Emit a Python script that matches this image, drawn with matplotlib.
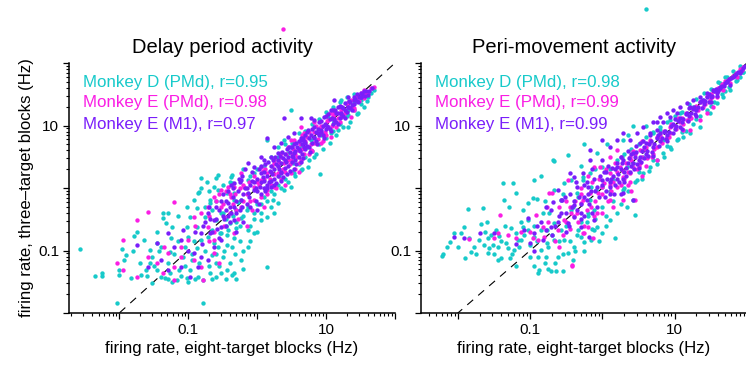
import numpy as np
import matplotlib
matplotlib.use("Agg")
import matplotlib.pyplot as plt
from matplotlib.ticker import LogLocator, NullFormatter, FixedLocator, FixedFormatter

plt.rcParams['font.family'] = ['Liberation Sans', 'DejaVu Sans']

# log10 firing rates: (eight-target blocks, three-target blocks)
delay_D = [
    (-2.57, -0.98), (-2.36, -1.41), (-2.25, -1.36), (-2.25, -1.41), (-2.03, -1.84), (-0.78, -1.84), (0.14, -1.26),
    (-2.01, -1.39), (-2.0, -1.31), (-1.93, -1.15), (-1.96, -0.98), (-1.91, -1.07), (-1.78, -0.77), (-1.74, -0.70),
    (-1.83, -1.44), (-1.68, -1.39), (-1.61, -1.31), (-1.56, -1.2), (-1.52, -1.1), (-1.64, -0.83), (-1.56, -0.99),
    (-1.46, -0.88), (-1.37, -0.4), (-1.29, -0.4), (-1.37, -0.48), (-1.32, -0.56), (-1.23, -0.62), (-1.39, -0.94),
    (-1.27, -1.02), (-1.45, -1.31), (-1.34, -1.44), (-1.27, -1.36), (-1.17, -1.47), (-1.24, -1.5), (-1.13, -1.31),
    (-1.08, -1.1), (-1.05, -0.94), (-1.01, -0.78), (-1.02, -0.62), (-0.98, -0.46), (-1.02, -0.3), (-0.88, -0.32),
    (-0.81, 0.16), (-0.73, 0.1), (-0.84, -0.06), (-0.91, -0.19), (-0.69, -0.19), (-0.76, -0.46), (-0.88, -0.62),
    (-0.81, -0.83), (-0.88, -0.96), (-0.94, -1.15), (-0.98, -1.31), (-1.02, -1.44), (-0.86, -1.42), (-0.79, -1.47),
    (-0.69, -1.36), (-0.59, -1.42), (-0.52, -1.36), (-0.44, -1.31), (-0.37, -1.39), (-0.59, -1.2), (-0.50, -1.1),
    (-0.65, -1.07), (-0.57, -0.94), (-0.44, -0.91), (-0.36, -0.94), (-0.33, -0.8), (-0.44, -0.75), (-0.54, -0.72),
    (-0.65, -0.67), (-0.30, -0.64), (-0.40, -0.56), (-0.59, -0.51), (-0.50, -0.4), (-0.30, -0.35), (-0.65, -0.35),
    (-0.57, -0.03), (-0.44, -0.08), (-0.36, 0.08), (-0.59, 0.16), (-0.36, 0.21), (-0.28, -0.22), (-1.52, -1.52),
    (-0.63, 0.02), (-0.57, 0.21), (-0.86, -0.08), (-0.82, 0.0), (-0.68, -0.24), (-0.38, 0.18), (-0.34, -0.08),
    (-0.24, -0.19), (-0.14, -0.3), (-0.05, -0.4), (0.05, -0.51), (0.15, -0.46), (0.24, -0.4), (0.23, -0.19),
    (0.3, -0.24), (0.39, -0.03), (0.49, 0.02), (0.53, 0.24), (0.63, 0.29), (0.74, 0.34), (0.91, 0.22), (0.82, 0.5),
    (0.3, 0.66), (0.15, 0.77), (0.49, 1.25), (0.39, 0.77), (-0.05, 0.24), (-0.14, 0.13), (-0.34, -0.19), (-0.53, -0.4),
    (-0.24, -0.48), (-0.53, -0.72), (-0.43, -0.67), (-0.14, -0.67), (-0.05, -0.72), (-0.14, -0.94), (-0.24, -1.15),
    (-0.34, -1.36), (0.3, 0.45), (0.45, 0.56), (0.63, 0.66), (0.78, 0.77), (0.93, 0.88), (1.12, 1.05), (1.32, 1.17),
    (1.41, 1.36), (1.61, 1.46), (1.55, 1.52), (1.22, 1.41), (1.03, 1.14), (1.07, 0.88), (1.17, 0.93), (1.32, 0.98),
    (1.46, 1.2), (1.5, 1.41), (1.65, 1.52), (1.70, 1.57),
    (0.0, -0.25), (0.1, -0.15), (0.2, -0.05), (0.3, 0.05), (0.4, 0.15), (0.5, 0.25), (0.6, 0.38), (0.7, 0.5),
    (0.8, 0.6), (0.9, 0.7), (1.0, 0.8), (1.1, 0.92), (1.2, 1.02), (1.3, 1.15), (1.4, 1.25), (1.5, 1.35),
    (-0.1, 0.2), (0.1, 0.35), (0.3, 0.5), (0.5, 0.72), (0.7, 0.92), (0.9, 1.1), (1.1, 1.3), (1.3, 1.45),
    (-0.2, -0.45), (-0.1, -0.6), (0.0, -0.7), (-0.3, -0.55), (0.05, -0.4), (0.2, -0.3),
    (-0.45, -0.5), (-0.35, -0.45), (-0.25, -0.6), (-0.15, -0.35), (-0.05, -0.5), (0.05, -0.25), (0.15, -0.2),
    (0.25, -0.1), (0.35, 0.0), (0.45, 0.1), (0.55, 0.2), (0.65, 0.3), (0.75, 0.45), (0.85, 0.55), (0.95, 0.62),
    (1.05, 0.72), (1.15, 0.85), (1.25, 0.98), (1.35, 1.05), (1.45, 1.18), (1.55, 1.3), (1.6, 1.4), (0.0, 0.3),
    (0.2, 0.5), (0.4, 0.7), (0.6, 0.88), (0.8, 1.02), (1.0, 1.22), (1.2, 1.38), (1.4, 1.5), (-0.2, 0.3), (-0.4, 0.1),
    (0.12, 0.0), (0.32, 0.2), (0.52, 0.4), (0.72, 0.65), (0.92, 0.85), (1.12, 1.05), (1.32, 1.25),
    (-1.6, -1.4), (-1.5, -1.25), (-1.42, -1.0), (-1.4, -1.42), (-1.3, -1.2), (-1.2, -1.05), (-1.15, -0.85),
    (-1.1, -1.4), (-1.05, -1.25), (-0.95, -1.05), (-0.92, -0.85), (-0.85, -1.2), (-0.75, -1.0), (-0.72, -0.78),
    (-0.7, -1.25), (-0.62, -0.88), (-0.6, -1.05), (-0.55, -1.25), (-0.48, -1.0), (-0.4, -1.2), (-0.32, -1.05),
    (-0.25, -0.85), (-0.2, -1.0), (-0.1, -0.85), (-0.75, -0.3), (-0.7, -0.05), (-0.6, -0.2), (-0.5, 0.05),
    (-0.45, -0.6), (-1.15, -0.45), (-1.25, -0.8), (-1.45, -0.7), (-1.7, -1.2), (-1.8, -1.0), (-1.3, -1.45),
    (-1.0, -1.5), (-0.9, -1.45), (-0.65, -1.45), (-0.45, -1.45), (-0.3, -1.45), (-0.2, -1.3),
]
delay_E_pmd = [
    (-1.74, -0.51), (-1.59, -0.38), (-1.21, -0.22), (-1.94, -0.83), (-2.03, -1.2), (-1.94, -1.31), (-1.74, -1.42),
    (-1.59, -1.1), (-1.45, -1.2), (-1.30, -1.04), (-1.21, -1.26), (-1.11, -0.94), (-1.01, -0.83), (-0.92, -1.15),
    (-0.78, -1.47), (-0.63, -1.04), (-0.92, -0.46), (-0.72, -0.62), (-0.53, -0.3), (-0.38, -0.14), (-0.48, -0.46),
    (-0.34, -0.72), (-0.63, -0.83), (-0.82, -1.26), (-1.21, -1.47), (-1.36, -1.36), (-0.24, -0.3), (-0.19, 0.02),
    (-0.05, 0.02), (0.05, 0.13), (0.15, -0.03), (-0.05, -0.19), (0.15, 0.24), (0.24, 0.4), (0.39, 0.4), (0.34, 0.56),
    (0.49, 0.45), (0.59, 0.61), (0.53, 0.77), (0.68, 0.88), (0.82, 0.72), (0.93, 0.98), (1.03, 1.09), (1.12, 1.2),
    (1.22, 1.3), (1.36, 1.41), (1.46, 1.46), (1.55, 1.57), (1.61, 1.54), (1.65, 1.6), (1.22, 1.14), (1.36, 1.14),
    (0.82, 1.05), (0.63, 0.98), (0.49, 0.77), (0.3, 0.24), (0.05, 0.34), (-0.24, 0.24), (-0.34, 0.02), (-0.53, -0.03),
    (-0.63, -0.14), (-0.72, -0.3), (-0.82, -0.4), (-0.43, 0.02), (0.24, 0.02), (0.49, 0.24), (0.63, 0.45), (0.78, 0.61),
    (0.93, 0.72), (1.07, 0.82), (1.41, 1.25), (1.55, 1.44), (0.38, 2.55), (1.7, 1.62),
    (-0.1, -0.2), (0.0, 0.1), (0.1, 0.15), (0.2, 0.05), (0.3, 0.35), (0.4, 0.25), (0.5, 0.55), (0.6, 0.4),
    (0.7, 0.75), (0.8, 0.6), (0.9, 0.95), (1.0, 0.85), (1.1, 1.15), (1.2, 1.05), (1.3, 1.35), (1.4, 1.28),
    (1.5, 1.52), (0.25, 0.45), (0.45, 0.65), (0.65, 0.85), (0.85, 1.0), (1.05, 1.2), (0.15, -0.1), (0.35, 0.15),
    (0.55, 0.3), (0.75, 0.55), (0.95, 0.75), (1.15, 0.98), (-0.2, 0.05), (-0.3, -0.35), (-0.4, -0.1), (-0.5, -0.25),
    (-0.45, -0.05), (-0.35, -0.25), (-0.25, 0.0), (-0.15, -0.1), (-0.05, 0.2), (0.05, -0.15), (0.08, 0.28),
    (0.18, 0.15), (0.22, 0.35), (0.28, 0.0), (0.32, 0.42), (0.38, 0.3), (0.42, 0.55), (0.48, 0.38), (0.52, 0.62),
    (0.58, 0.5), (0.62, 0.7), (0.68, 0.55), (0.72, 0.82), (0.78, 0.7), (0.82, 0.9), (0.88, 0.78), (0.92, 1.0),
    (0.98, 0.9), (1.02, 1.08), (1.08, 1.0), (1.12, 1.18), (1.18, 1.12), (1.22, 1.25), (1.28, 1.2), (1.32, 1.38),
    (1.38, 1.3), (1.42, 1.45), (1.48, 1.4), (1.53, 1.48), (1.58, 1.52), (-0.6, -0.2), (-0.7, -0.85), (-0.55, -1.2),
    (-0.9, -0.6), (-1.1, -1.1), (-1.35, -0.95), (-0.15, -0.6), (0.1, -0.3), (0.4, 0.05), (0.6, 0.25),
    (-0.7, -0.45), (-0.62, -0.7), (-0.55, -0.1), (-0.48, -0.6), (-0.4, -0.4), (-0.32, -0.1), (-0.28, -0.5),
    (-0.2, -0.2), (-0.12, 0.1), (-0.08, -0.35), (0.02, 0.05), (0.12, 0.3), (0.25, 0.22), (0.35, 0.5), (0.45, 0.45),
    (0.55, 0.55), (0.65, 0.62), (0.75, 0.9),
]
delay_E_m1 = [
    (-1.74, -0.91), (-1.45, -0.88), (-1.11, -0.83), (-0.82, -1.1), (-0.86, -1.26), (-1.11, -1.26), (-0.68, -0.72),
    (-0.63, -0.51), (-0.53, -0.62), (-0.72, -0.4), (-0.34, -0.51), (-0.38, -0.4), (-0.24, -0.19), (-0.14, -0.08),
    (-0.05, -0.03), (-0.14, 0.4), (-0.24, 0.13), (0.05, 0.24), (0.1, 0.45), (0.2, 0.5), (0.3, 0.56), (0.34, 0.72),
    (0.45, 0.82), (0.53, 0.88), (0.49, 0.66), (0.63, 0.77), (0.74, 0.93), (0.82, 1.09), (0.88, 0.88), (0.97, 1.14),
    (1.07, 1.25), (1.12, 1.41), (1.17, 1.3), (1.27, 1.36), (1.32, 1.46), (1.41, 1.46), (1.5, 1.52), (0.39, 1.12),
    (0.63, 1.12), (0.78, 1.12), (0.15, 0.8), (0.24, 0.66), (0.05, 0.5), (-0.05, 0.34), (-0.34, 0.08), (-0.43, -0.24),
    (-0.53, -0.83), (-0.82, -0.72), (-0.72, -1.15), (-0.92, -1.04), (-0.97, -1.42), (-1.07, -0.67), (-1.3, -0.72),
    (-1.40, -1.15), (-1.30, -1.31), (-1.59, -1.26), (0.2, 0.02), (0.34, 0.24), (0.53, 0.56), (0.68, 0.66),
    (0.82, 0.82), (0.93, 0.93), (1.03, 0.98), (1.12, 1.09), (1.22, 1.2), (1.32, 1.3), (1.41, 1.41), (1.5, 1.46),
    (1.61, 1.49),
    (-0.2, -0.1), (-0.1, 0.05), (0.0, -0.05), (0.05, 0.1), (0.1, 0.0), (0.15, 0.2), (0.2, 0.12), (0.25, 0.3),
    (0.3, 0.2), (0.35, 0.4), (0.4, 0.32), (0.45, 0.5), (0.5, 0.42), (0.55, 0.6), (0.6, 0.5), (0.65, 0.7),
    (0.7, 0.62), (0.75, 0.8), (0.8, 0.72), (0.85, 0.9), (0.9, 0.85), (0.95, 1.0), (1.0, 0.95), (1.05, 1.1),
    (1.1, 1.02), (1.15, 1.2), (1.2, 1.12), (1.25, 1.28), (1.3, 1.22), (1.35, 1.38), (1.4, 1.35), (1.45, 1.5),
    (1.5, 1.45), (1.55, 1.55), (0.0, 0.15), (0.1, 0.25), (0.2, 0.35), (0.3, 0.45), (0.4, 0.55), (0.5, 0.65),
    (0.6, 0.75), (0.7, 0.85), (0.8, 0.95), (0.9, 1.05), (1.0, 1.15), (1.1, 1.25), (1.2, 1.32), (0.05, -0.1),
    (0.15, 0.05), (0.25, 0.15), (0.35, 0.25), (0.45, 0.35), (0.55, 0.45), (0.65, 0.55), (0.75, 0.65), (0.85, 0.75),
    (0.95, 0.85), (1.05, 0.95), (1.15, 1.05), (1.25, 1.15), (1.35, 1.28), (1.45, 1.4), (-0.3, -0.2), (-0.4, -0.3),
    (-0.5, -0.45), (-0.35, 0.0), (-0.25, 0.1), (-0.15, -0.25), (-0.45, -0.6), (-0.6, -0.5),
    (-0.55, -0.35), (-0.5, -0.1), (-0.45, -0.2), (-0.42, -0.45), (-0.38, 0.05), (-0.33, -0.3), (-0.28, -0.05),
    (-0.25, -0.35), (-0.22, 0.2), (-0.18, 0.0), (-0.12, -0.15), (-0.08, 0.25), (-0.05, 0.1), (-0.02, -0.2),
    (0.02, 0.3), (0.04, 0.02), (0.08, 0.18), (0.12, -0.05), (0.12, 0.38), (0.17, 0.1), (0.18, 0.28), (0.22, 0.22),
    (0.23, 0.45), (0.27, 0.08), (0.28, 0.38), (0.32, 0.3), (0.33, 0.52), (0.37, 0.18), (0.38, 0.48), (0.42, 0.42),
    (0.43, 0.62), (0.47, 0.28), (0.48, 0.58), (0.52, 0.5), (0.53, 0.7), (0.57, 0.38), (0.58, 0.65), (0.62, 0.6),
    (0.63, 0.8), (0.67, 0.48), (0.68, 0.75), (0.72, 0.68), (0.73, 0.9), (0.77, 0.58), (0.78, 0.85), (0.82, 0.8),
    (0.83, 0.98), (0.87, 0.7), (0.88, 0.95), (0.92, 0.9), (0.93, 1.08), (0.97, 0.8), (0.98, 1.02), (1.02, 1.0),
    (1.03, 1.18), (1.07, 0.92), (1.08, 1.12), (1.12, 1.1), (1.13, 1.25), (1.17, 1.02), (1.18, 1.2), (1.22, 1.18),
    (1.23, 1.3), (1.27, 1.12), (1.28, 1.25), (1.32, 1.3), (1.33, 1.4), (1.37, 1.25), (1.38, 1.33), (1.42, 1.42),
    (1.47, 1.38), (1.48, 1.45), (1.52, 1.5), (1.57, 1.48), (1.58, 1.56), (1.62, 1.55), (1.67, 1.6), (-0.65, -0.7),
    (-0.7, -0.3), (-0.75, -0.55), (-0.8, -0.9), (-0.62, -0.95), (-0.3, -0.7), (-0.2, -0.55), (0.0, -0.35),
    (-1.0, -1.0), (-1.2, -0.95), (-0.9, -0.7),
    (-0.78, -0.6), (-0.68, -0.5), (-0.6, -0.3), (-0.58, -0.65), (-0.52, -0.2), (-0.48, -0.5), (-0.42, -0.05),
    (-0.4, -0.55), (-0.35, -0.15), (-0.3, -0.4), (-0.27, 0.15), (-0.22, -0.3), (-0.18, 0.3), (-0.15, 0.0),
    (-0.1, -0.3), (-0.07, 0.12), (-0.02, 0.0), (0.02, -0.25), (0.06, 0.35), (0.1, 0.12), (0.14, 0.0), (0.16, 0.42),
    (0.2, 0.25), (0.24, 0.05), (0.26, 0.5), (0.3, 0.35), (0.34, 0.12), (0.36, 0.58), (0.4, 0.45), (0.44, 0.22),
    (0.46, 0.65), (0.5, 0.52), (0.54, 0.3), (0.56, 0.72), (0.6, 0.62), (0.64, 0.42), (0.66, 0.8), (0.7, 0.72),
    (-0.55, -0.8), (-0.45, -0.35),
]

move_D = [
    (-2.22, -1.09), (-2.21, -1.06), (-2.15, -0.94), (-2.11, -0.86), (-2.06, -0.72), (-1.96, -0.72), (-1.92, -0.62),
    (-1.86, -0.34), (-1.9, -1.12), (-1.82, -1.02), (-1.78, -0.94), (-1.71, -0.83), (-1.65, -0.32), (-1.68, -0.58),
    (-1.64, -0.91), (-1.59, -1.04), (-1.57, -0.96), (-1.52, -0.91), (-1.59, -0.8), (-1.54, -0.75), (-1.47, -0.67),
    (-1.43, -0.77), (-1.41, -1.12), (-1.38, 0.08), (-1.36, -0.19), (-1.29, -0.3), (-1.24, 0.08), (-1.2, -0.08),
    (-1.34, -0.88), (-1.31, -0.96), (-1.28, -1.12), (-1.23, -0.99), (-1.17, -0.83), (-1.13, -0.54), (-1.1, -0.62),
    (-1.03, -0.67), (-1.0, -0.91), (-0.96, -0.16), (-0.95, 0.13), (-0.91, -0.18), (-1.03, -0.24), (-0.89, -1.1),
    (-0.89, -1.36), (-0.88, -1.31), (-0.71, -1.33), (-0.64, -1.33), (-0.55, -1.33), (-0.85, -0.99), (-0.78, -1.1),
    (-0.76, -0.88), (-0.85, -0.67), (-0.82, -0.4), (-0.74, -0.4), (-0.67, -0.56), (-0.69, 0.45), (-0.48, 0.53),
    (-0.26, 0.7), (-0.58, -0.19), (-0.53, 0.08), (-0.62, -1.1), (-0.48, -1.04), (-0.41, -1.15), (-0.4, -0.94),
    (-0.53, -0.83), (-0.34, -0.67), (-0.3, -0.78), (-0.26, -0.86), (-0.16, -0.83), (-0.12, -0.67), (-0.2, -0.4),
    (-0.12, -0.35), (-0.44, -0.35), (-0.34, -0.14), (-0.44, 0.13), (-0.27, 0.18), (-0.16, 0.02), (-0.09, -0.03),
    (-1.13, -0.83), (-1.03, -0.51), (-0.95, -0.78), (-1.2, -0.72), (-1.27, -0.64), (-1.45, -0.94), (-0.76, -0.67),
    (-0.67, -0.83), (-0.58, -0.67), (-0.67, -0.03), (-0.67, 0.43), (-0.27, 0.13), (-0.08, 0.56), (0.07, 0.7),
    (0.27, 0.5), (0.42, 1.0), (0.28, 0.77), (0.0, 0.34), (-0.17, 0.24), (-0.35, -0.08), (-0.41, -0.3), (-0.17, -0.19),
    (0.0, 0.02), (0.14, 0.13), (0.34, 0.34), (0.45, -0.43), (0.42, -0.19), (0.34, -0.3), (0.2, -0.4), (0.17, -0.8),
    (0.0, -0.72), (-0.08, -0.62), (0.1, -0.51), (0.28, -0.03), (0.48, 0.13), (0.56, 0.24), (0.66, 0.34), (0.75, 0.45),
    (0.84, 0.56), (0.93, 0.66), (1.03, 0.77), (1.11, 0.82), (1.21, 0.88), (1.35, 0.98), (1.49, 1.2), (1.58, 1.36),
    (1.67, 1.46), (1.76, 1.57), (1.86, 1.73), (1.94, 1.86), (0.7, 0.88), (0.79, 0.93), (0.93, 1.09), (1.07, 1.2),
    (1.25, 1.3), (1.39, 1.41), (1.53, 1.57), (1.62, 1.68), (1.72, 1.78), (0.84, 0.77), (0.56, 0.5), (0.42, 0.4),
    (0.6, 2.86),
    (0.1, -0.05), (0.3, 0.0), (0.5, 0.25), (0.7, 0.45), (0.9, 0.68), (1.1, 0.9), (1.3, 1.1), (1.5, 1.32),
    (1.7, 1.55), (1.9, 1.78), (0.2, 0.45), (0.4, 0.62), (0.6, 0.82), (0.8, 0.98), (1.0, 1.15), (1.2, 1.35),
    (1.4, 1.52), (1.6, 1.7), (1.8, 1.88), (0.0, -0.3), (-0.2, -0.45), (-0.3, -0.55),
    (-0.1, -0.5), (0.05, -0.45), (0.15, -0.2), (0.25, -0.25), (0.35, -0.05), (0.45, 0.1), (0.55, 0.15),
    (0.65, 0.28), (0.75, 0.38), (0.85, 0.5), (0.95, 0.62), (1.05, 0.78), (1.15, 0.92), (1.25, 1.02), (1.35, 1.15),
    (1.45, 1.25), (1.55, 1.38), (1.65, 1.5), (1.75, 1.62), (1.85, 1.72), (1.95, 1.85), (0.1, 0.3), (0.3, 0.55),
    (0.5, 0.7), (0.7, 0.9), (0.9, 1.05), (1.1, 1.22), (1.3, 1.42), (1.5, 1.58), (1.7, 1.78), (1.9, 1.95),
    (-0.1, 0.3), (0.35, 0.85), (0.6, 1.0),
    (-2.0, -0.95), (-1.85, -0.8), (-1.75, -1.05), (-1.62, -0.7), (-1.5, -1.05), (-1.4, -0.85), (-1.35, -0.6),
    (-1.25, -1.05), (-1.15, -0.95), (-1.08, -0.75), (-1.0, -1.1), (-0.95, -0.6), (-0.9, -0.85), (-0.8, -1.2),
    (-0.75, -0.95), (-0.7, -0.75), (-0.65, -1.2), (-0.6, -0.85), (-0.55, -1.05), (-0.5, -0.6), (-0.45, -0.85),
    (-0.38, -1.0), (-0.35, -0.75), (-0.25, -1.0), (-0.22, -0.55), (-0.15, -0.65), (-0.05, -0.85), (0.05, -0.6),
    (-1.45, -1.15), (-1.2, -1.25), (-0.95, -1.25), (-0.75, -1.3), (-1.6, -0.55), (-1.1, -0.35), (-0.8, -0.2),
    (-0.55, -0.1), (-0.3, 0.35), (-0.85, 0.2),
]
move_E_pmd = [
    (-1.85, -0.82), (-1.42, -0.43), (-0.74, -0.08), (-0.42, -1.23), (-1.13, -0.7), (-1.5, -0.8), (-1.45, -0.72),
    (-1.2, -0.8), (-0.96, -0.8), (-0.92, -0.43), (-0.81, -0.78), (-0.82, -0.62), (-0.62, -0.67), (-0.6, -0.94),
    (-0.53, -0.51), (-0.48, 0.13), (-0.44, -0.4), (-0.34, -0.54), (-0.26, -0.72), (-0.2, -0.62), (-0.13, -0.8),
    (-0.12, 0.34), (-0.3, -0.24), (-0.16, -0.3), (-0.06, -0.08), (-0.89, -0.83), (-0.76, -0.3), (-0.7, -0.08),
    (-0.35, -0.4), (-0.42, -1.25), (-0.27, -0.72), (-0.17, -0.08), (-0.08, -0.4), (0.0, -0.4), (0.1, -0.19),
    (0.2, 0.02), (0.28, 0.18), (0.38, 0.24), (0.45, -0.19), (0.28, -0.19), (0.14, -0.3), (0.0, 0.02), (-0.04, 0.34),
    (0.1, 0.5), (0.2, 0.61), (0.38, 0.5), (0.52, 0.61), (0.66, 0.77), (0.75, 0.66), (0.89, 0.82), (0.93, 0.98),
    (1.07, 1.05), (1.21, 1.14), (1.3, 1.25), (1.39, 1.3), (1.49, 1.41), (1.58, 1.46), (1.67, 1.57), (1.76, 1.68),
    (1.86, 1.78), (1.93, 1.89), (0.61, 0.5), (0.79, 0.82), (0.93, 0.88), (1.11, 0.93), (1.21, 0.93), (1.17, 1.09),
    (1.35, 1.09), (1.44, 1.2), (1.53, 1.3), (0.42, 0.34), (0.24, 0.34), (0.1, 0.24), (-0.27, -0.19), (-0.45, -0.3),
    (0.0, -0.1), (0.1, 0.05), (0.2, 0.25), (0.3, 0.15), (0.4, 0.45), (0.5, 0.35), (0.6, 0.65), (0.7, 0.55),
    (0.8, 0.85), (0.9, 0.8), (1.0, 1.0), (1.1, 1.12), (1.2, 1.1), (1.3, 1.32), (1.4, 1.4), (1.5, 1.5),
    (1.6, 1.6), (1.7, 1.72), (1.8, 1.8), (1.9, 1.9), (-0.15, 0.1), (-0.3, -0.1), (-0.5, -0.55), (0.35, 0.05),
    (0.55, 0.2), (0.75, 0.45), (0.25, 0.5), (0.55, 0.75),
    (-0.4, -0.45), (-0.3, 0.0), (-0.22, -0.35), (-0.1, -0.2), (-0.05, 0.15), (0.05, 0.3), (0.08, -0.2),
    (0.15, 0.1), (0.25, 0.05), (0.32, 0.4), (0.35, 0.25), (0.45, 0.55), (0.48, 0.3), (0.55, 0.5), (0.62, 0.48),
    (0.65, 0.72), (0.72, 0.62), (0.75, 0.82), (0.82, 0.72), (0.85, 0.92), (0.92, 0.82), (0.95, 1.02), (1.02, 0.95),
    (1.05, 1.12), (1.12, 1.02), (1.15, 1.2), (1.22, 1.12), (1.25, 1.28), (1.32, 1.25), (1.35, 1.38), (1.42, 1.35),
    (1.45, 1.48), (1.52, 1.45), (1.55, 1.55), (1.62, 1.58), (1.65, 1.66), (1.75, 1.75), (1.85, 1.84), (1.95, 1.94),
    (-0.65, -0.85), (-0.75, -0.55), (-1.0, -0.7), (-1.3, -0.75), (-0.55, -0.75), (0.4, -0.05), (0.6, 0.35),
    (-0.6, -0.3), (-0.5, -0.2), (-0.45, -0.65), (-0.38, -0.2), (-0.25, -0.6), (-0.2, 0.2), (-0.12, -0.45),
    (0.02, 0.08), (0.12, -0.05), (0.18, 0.4), (0.28, 0.28), (0.38, 0.1), (0.42, 0.6), (0.52, 0.4), (0.58, 0.62),
    (0.68, 0.5),
]
move_E_m1 = [
    (-2.06, -0.78), (-1.92, -0.8), (-1.7, -0.72), (-1.5, -0.72), (-1.03, -0.48), (-1.09, -0.67), (-0.95, -0.72),
    (-0.78, -0.67), (-0.71, -0.35), (-0.69, -0.22), (-0.62, -0.54), (-0.58, -0.19), (-0.48, -0.56), (-0.4, -0.46),
    (-0.4, -0.27), (-0.3, -0.4), (-0.26, -0.14), (-0.2, 0.02), (-0.62, -0.03), (-0.4, 0.18), (-0.3, -0.62),
    (-0.19, -0.78), (-0.12, -0.51), (-1.0, -0.88), (-0.82, -0.83), (-0.71, -0.62), (-0.56, -0.19), (-0.45, 0.24),
    (-0.27, 0.24), (-0.17, 0.45), (0.0, 0.45), (0.1, 0.66), (0.2, 0.77), (0.28, 0.88), (0.38, 0.77), (0.48, 0.88),
    (0.56, 0.98), (0.7, 1.05), (0.79, 1.14), (0.89, 1.2), (0.97, 1.25), (1.07, 1.3), (1.17, 1.36), (1.25, 1.41),
    (1.35, 1.46), (1.44, 1.52), (1.53, 1.57), (1.62, 1.62), (1.72, 1.7), (1.8, 1.78), (1.9, 1.84), (0.42, -0.19),
    (0.28, -0.08), (0.1, 0.02), (0.0, 0.13), (-0.08, 0.02), (-0.22, -0.19), (-0.35, 0.02), (0.2, 0.34), (0.28, 0.45),
    (0.42, 0.56), (0.52, 0.72), (0.66, 0.88), (0.75, 0.93), (0.84, 1.05), (0.93, 1.14), (1.03, 1.2), (1.21, 1.3),
    (1.39, 1.41), (1.58, 1.52), (1.76, 1.65), (0.75, 1.05), (0.0, 0.77), (-0.17, 0.61),
    (0.0, 0.05), (0.1, 0.1), (0.15, 0.2), (0.2, 0.15), (0.25, 0.3), (0.3, 0.25), (0.35, 0.4), (0.4, 0.35),
    (0.45, 0.5), (0.5, 0.45), (0.55, 0.6), (0.6, 0.55), (0.65, 0.7), (0.7, 0.65), (0.75, 0.8), (0.8, 0.75),
    (0.85, 0.9), (0.9, 0.85), (0.95, 1.0), (1.0, 0.95), (1.05, 1.08), (1.1, 1.05), (1.15, 1.18), (1.2, 1.15),
    (1.25, 1.27), (1.3, 1.25), (1.35, 1.37), (1.4, 1.35), (1.45, 1.46), (1.5, 1.45), (1.55, 1.55), (1.6, 1.56),
    (1.65, 1.64), (1.7, 1.68), (1.75, 1.74), (1.85, 1.82), (1.95, 1.92), (-0.1, -0.05), (-0.2, -0.1), (-0.3, -0.25),
    (-0.4, -0.2), (-0.5, -0.4), (0.05, 0.25), (0.2, 0.4), (0.4, 0.55), (0.6, 0.72), (0.8, 0.88), (1.0, 1.1),
    (1.2, 1.28), (0.1, -0.1), (0.3, 0.1), (0.5, 0.32), (0.7, 0.52), (0.9, 0.75), (1.1, 0.95), (1.3, 1.15),
    (1.5, 1.38),
    (-0.45, -0.1), (-0.35, -0.35), (-0.25, 0.05), (-0.18, -0.25), (-0.12, 0.15), (-0.05, -0.15), (0.02, 0.25),
    (0.05, -0.05), (0.08, 0.35), (0.12, 0.15), (0.18, 0.05), (0.18, 0.3), (0.22, 0.22), (0.27, 0.4), (0.28, 0.15),
    (0.32, 0.32), (0.37, 0.48), (0.38, 0.25), (0.42, 0.4), (0.47, 0.58), (0.48, 0.38), (0.52, 0.5), (0.57, 0.65),
    (0.58, 0.48), (0.62, 0.6), (0.67, 0.75), (0.68, 0.58), (0.72, 0.7), (0.77, 0.85), (0.78, 0.68), (0.82, 0.8),
    (0.87, 0.92), (0.88, 0.78), (0.92, 0.9), (0.97, 1.02), (0.98, 0.88), (1.02, 1.0), (1.07, 1.12), (1.08, 0.98),
    (1.12, 1.1), (1.17, 1.2), (1.18, 1.08), (1.22, 1.2), (1.27, 1.3), (1.28, 1.18), (1.32, 1.3), (1.37, 1.4),
    (1.38, 1.28), (1.42, 1.4), (1.47, 1.5), (1.48, 1.38), (1.52, 1.48), (1.57, 1.58), (1.58, 1.48), (1.63, 1.6),
    (1.68, 1.64), (1.72, 1.72), (1.78, 1.76), (1.82, 1.8), (1.88, 1.86), (1.92, 1.88), (1.97, 1.96), (-0.6, -0.45),
    (-0.7, -0.75), (-0.85, -0.55), (-0.5, -0.7), (-0.3, -0.5), (-0.15, -0.4), (0.25, -0.1), (-1.2, -0.9),
    (-0.95, -1.0),
    (-0.58, -0.4), (-0.52, -0.15), (-0.46, -0.6), (-0.42, -0.3), (-0.36, 0.1), (-0.32, -0.15), (-0.26, -0.45),
    (-0.22, 0.1), (-0.16, -0.05), (-0.14, 0.3), (-0.08, -0.3), (-0.04, 0.2), (0.03, -0.15), (0.07, 0.15),
    (0.13, 0.32), (0.16, -0.1), (0.23, 0.1), (0.26, 0.5), (0.33, 0.2), (0.36, 0.6), (0.43, 0.3), (0.46, 0.68),
    (0.53, 0.42), (0.56, 0.75), (0.63, 0.52), (0.66, 0.85), (-0.65, -0.6), (-0.78, -0.3), (-0.9, -0.6),
]

series_names = ['Monkey D (PMd)', 'Monkey E (PMd)', 'Monkey E (M1)']
series_colors = ['#17CACA', '#FA1EE4', '#7A1EFA']
delay_r = ['0.95', '0.98', '0.97']
move_r = ['0.98', '0.99', '0.99']

fig = plt.figure(figsize=(7.46, 3.70), dpi=100)
ax1 = fig.add_axes([69 / 746, 57 / 370, 326 / 746, 250 / 370])
ax2 = fig.add_axes([421 / 746, 57 / 370, 326 / 746, 250 / 370])

panels = [
    (ax1, [delay_D, delay_E_pmd, delay_E_m1], delay_r, 'Delay period activity', (10 ** -2.73, 100)),
    (ax2, [move_D, move_E_pmd, move_E_m1], move_r, 'Peri-movement activity', (10 ** -2.51, 100)),
]

for ax, groups, rvals, title, xlim in panels:
    ax.set_xscale('log')
    ax.set_yscale('log')
    ax.plot([1e-3, 1e3], [1e-3, 1e3], color='black', lw=0.8, ls=(0, (7, 6)), zorder=1)
    for pts, col in zip(groups, series_colors):
        arr = np.array(pts)
        ax.scatter(10 ** arr[:, 0], 10 ** arr[:, 1], s=10, color=col, linewidths=0,
                   clip_on=False, zorder=2)
    ax.set_xlim(*xlim)
    ax.set_ylim(0.01, 100)
    for k, (name, col, r) in enumerate(zip(series_names, series_colors, rvals)):
        ax.text(0.042, 0.924 - k * 0.084, f'{name}, r={r}', color=col, fontsize=12.2,
                transform=ax.transAxes, ha='left', va='center')
    ax.set_title(title, fontsize=14.5, x=0.47, pad=7)
    for axis in (ax.xaxis, ax.yaxis):
        axis.set_major_locator(FixedLocator([0.01, 0.1, 1, 10, 100]))
        axis.set_major_formatter(FixedFormatter(['', '0.1', '', '10', '']))
        axis.set_minor_locator(LogLocator(base=10, subs=np.arange(2, 10), numticks=20))
        axis.set_minor_formatter(NullFormatter())
    ax.tick_params(which='major', direction='out', length=4, width=0.9, labelsize=11, pad=3)
    ax.tick_params(which='minor', direction='out', length=2.2, width=0.8)
    ax.spines['top'].set_visible(False)
    ax.spines['right'].set_visible(False)
    ax.spines['left'].set_linewidth(1.1)
    ax.spines['bottom'].set_linewidth(1.1)
    ax.set_xlabel('firing rate, eight-target blocks (Hz)', fontsize=12.1, labelpad=3)

ax1.set_ylabel('firing rate, three\u2013target blocks (Hz)', fontsize=12.1, labelpad=3)

fig.savefig('out.png', dpi=100)
